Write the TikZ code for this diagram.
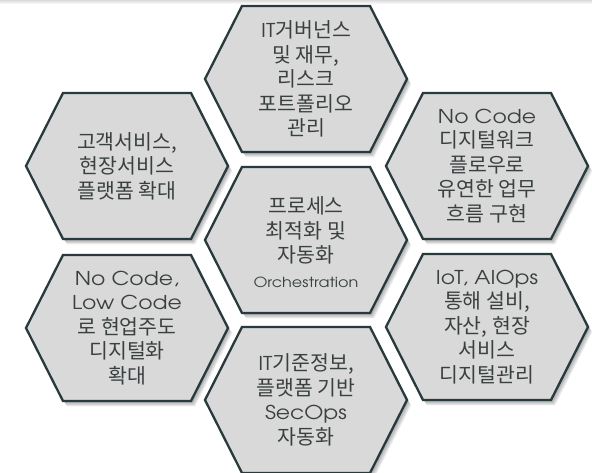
\documentclass[tikz,border=0pt]{standalone}
\usepackage{fontspec}
\setmainfont{Noto Sans CJK KR}
\newfontfamily\latinf{TeX Gyre Adventor}[FakeStretch=1.15, Scale=0.93]
\definecolor{hexfill}{RGB}{217,217,217}
\definecolor{hexline}{RGB}{40,58,60}
\definecolor{txt}{RGB}{58,64,64}
\def\hexpts{(-101,0) -- (-64,-73) -- (64,-73) -- (101,0) -- (64,73) -- (-64,73) -- cycle}
\tikzset{
  hexshape/.style={fill=hexfill, draw=hexline, line width=2.3pt, line join=miter},
  hexshadow/.style={fill=black, opacity=0.065},
  hextext/.style={text=txt, align=center, inner sep=0pt, font=\fontsize{20.5}{24.5}\selectfont},
}
\begin{document}
\begin{tikzpicture}[x=1pt,y=-1pt]
\useasboundingbox (0,0) rectangle (592,473);
\fill[white] (0,0) rectangle (592,473);
\shade[top color=black!14, bottom color=white] (0,0) rectangle (592,4);
\foreach \nm/\px/\py in {top/306/79, mid/306/240, bot/306/400, lu/127/166, ll/127/328, ru/487/166, rl/487/327}{
  \coordinate (\nm) at (\px,\py);
  \begin{scope}[shift={(\px,\py)}]
    \foreach \s in {1,...,6}{\fill[hexshadow,shift={(0.7*\s,0.9*\s)}] \hexpts;}
    \path[hexshape] \hexpts;
  \end{scope}
}
\node[hextext] (toptext) at (top) {{\latinf IT}거버넌스\\및 재무,\\리스크\\포트폴리오\\관리};
\node[hextext] (midtext) at ([yshift=-2pt]mid) {프로세스\\최적화 및\\자동화\\{\latinf\fontsize{15}{18}\selectfont Orchestration}};
\node[hextext] (lutext) at (lu) {고객서비스,\\현장서비스\\플랫폼 확대};
\node[hextext] (rutext) at (ru) {{\latinf No Code}\\디지털워크\\플로우로\\유연한 업무\\흐름 구현};
\node[hextext] (lltext) at (ll) {{\latinf No Code,}\\{\latinf Low Code}\\로 현업주도\\디지털화\\확대};
\node[hextext] (rltext) at (rl) {{\latinf IoT, AIOps}\\통해 설비,\\자산, 현장\\서비스\\디지털관리};
\node[hextext] (bottext) at (bot) {{\latinf IT}기준정보,\\플랫폼 기반\\{\latinf SecOps}\\자동화};
\end{tikzpicture}
\end{document}
